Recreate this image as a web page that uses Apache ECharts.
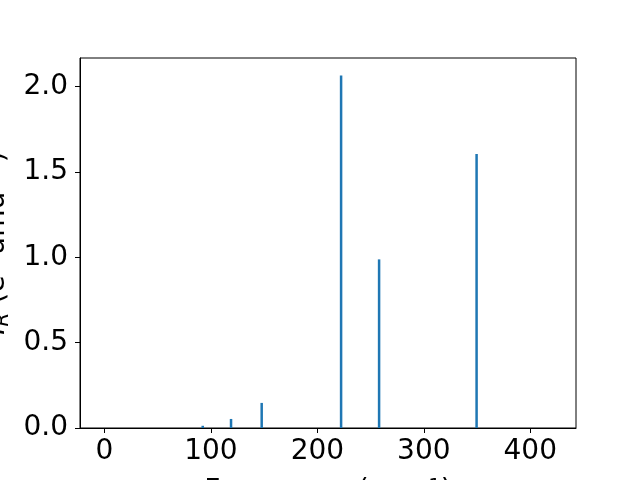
<!DOCTYPE html>
<html>
<head>
<meta charset="utf-8">
<script src="https://cdn.jsdelivr.net/npm/echarts@6/dist/echarts.min.js"></script>
<style>html,body{margin:0;padding:0;background:#fff}#c{width:640px;height:480px}</style>
</head>
<body>
<div id="c"></div>
<script>
var frequencies = [92.3, 118.9, 147.7, 222.3, 258.0, 349.6];
var intensities = [0.013, 0.053, 0.147, 2.065, 0.988, 1.605];
var xTicks = [0, 100, 200, 300, 400];
var yTicks = [0.0, 0.5, 1.0, 1.5, 2.0];

var chart = echarts.init(document.getElementById('c'), null, {renderer: 'canvas'});
var font = 'DejaVu Sans';
var data = frequencies.map(function (f, i) { return [f, intensities[i]]; });
chart.setOption({
  animation: false,
  backgroundColor: '#fff',
  grid: {left: 80, right: 64, top: 58, bottom: 52, containLabel: false, outerBoundsMode: 'none',
    show: true, borderColor: '#000', borderWidth: 1, backgroundColor: 'transparent'},
  xAxis: {
    type: 'value', min: -23, max: 443,
    splitLine: {show: false},
    axisLine: {show: true, onZero: false, lineStyle: {color: '#000', width: 1}},
    axisTick: {show: true, inside: false, length: 5, customValues: xTicks, lineStyle: {color: '#000'}},
    axisLabel: {show: true, customValues: xTicks, margin: 10, fontFamily: font, fontSize: 28, color: '#000',
      formatter: function (v) { return String(v); }},
    name: 'Frequency (cm{sup|−1})', nameLocation: 'middle', nameGap: 49,
    nameTextStyle: {fontFamily: font, fontSize: 28, color: '#000',
      rich: {
        sup: {fontFamily: font, fontSize: 20, color: '#000', padding: [0, 0, 10, 0]}
      }}
  },
  yAxis: {
    type: 'value', min: 0, max: 2.168,
    splitLine: {show: false},
    axisLine: {show: true, onZero: false, lineStyle: {color: '#000', width: 1}},
    axisTick: {show: true, inside: false, length: 5, customValues: yTicks, lineStyle: {color: '#000'}},
    axisLabel: {show: true, customValues: yTicks, margin: 12, fontFamily: font, fontSize: 28, color: '#000',
      formatter: function (v) { return v.toFixed(1); }},
    name: '{i|I}{sub|R} (e{sup|2} amu{sup|−1})', nameLocation: 'middle', nameGap: 65, nameRotate: 90,
    nameTextStyle: {fontFamily: font, fontSize: 28, color: '#000',
      rich: {
        i: {fontFamily: font, fontSize: 28, fontStyle: 'italic', color: '#000'},
        sub: {fontFamily: font, fontSize: 20, fontStyle: 'italic', color: '#000', verticalAlign: 'bottom', padding: [12, 0, 0, 0]},
        sup: {fontFamily: font, fontSize: 20, color: '#000', padding: [0, 0, 12, 0]}
      }}
  },
  series: [{
    type: 'bar', data: data, barWidth: 2.5,
    itemStyle: {color: '#1f77b4'}
  }]
});
</script>
</body>
</html>
